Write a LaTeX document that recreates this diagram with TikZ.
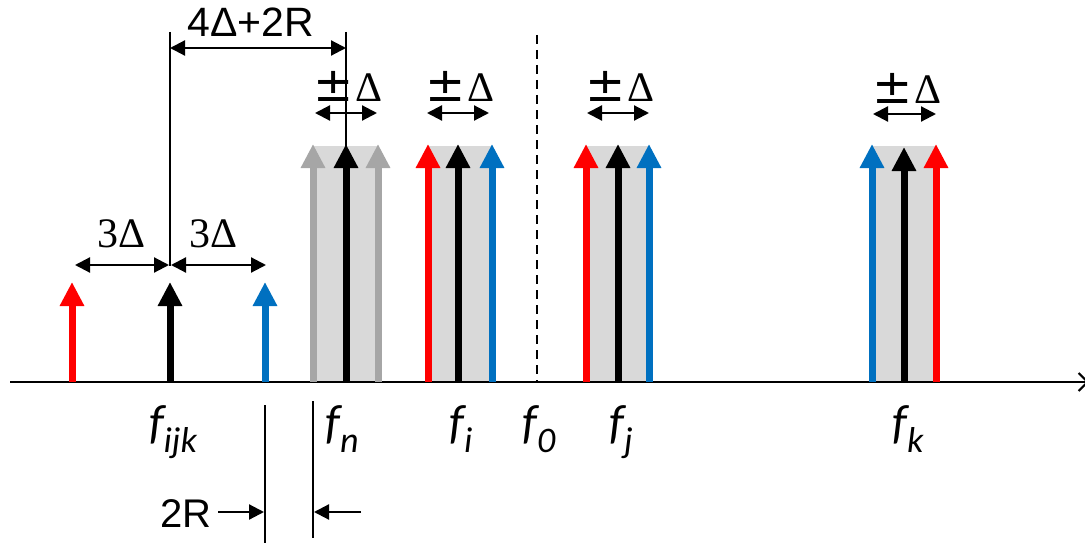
\documentclass[tikz,border=0pt]{standalone}
\usepackage{fontspec}
\setmainfont{Liberation Serif}
\newfontfamily\arialfont{Liberation Sans}
\newfontfamily\califont{Carlito}
\newfontfamily\djfont{DejaVu Sans}
\usetikzlibrary{arrows.meta}
\definecolor{myred}{HTML}{FF0000}
\definecolor{myblue}{HTML}{0070C0}
\definecolor{mygray}{HTML}{A6A6A6}
\definecolor{boxgray}{HTML}{D9D9D9}
\newcommand\spk[4]{%
  \coordinate (#1b) at (#2,382);
  \coordinate (#1t) at (#2,#3);
  \draw[spike,#4] (#1b) -- (#1t);}
\newcommand\flab[1]{{\califont\itshape\fontsize{48}{48}\selectfont f}{\califont\itshape\fontsize{36}{36}\selectfont\raisebox{-14pt}{#1}}}
\newcommand\pmd{{\djfont\fontsize{48}{48}\selectfont ±}\kern1pt Δ}
\tikzset{
  spike/.style={line width=7pt,-{Triangle[length=24pt,width=23pt]}},
  dimline/.style={line width=2pt},
  dimarrow/.style={line width=2.2pt,{Triangle[length=15pt,width=15pt]}-{Triangle[length=15pt,width=15pt]}},
  onearrow/.style={line width=2.2pt,-{Triangle[length=15pt,width=15pt]}},
  pmlab/.style={anchor=base,font=\fontsize{42}{42}\selectfont,inner sep=0pt},
  sanslab/.style={anchor=base,font=\arialfont\fontsize{41}{41}\selectfont,inner sep=0pt},
  flabel/.style={anchor=base,inner sep=0pt},
}
\begin{document}
\begin{tikzpicture}[x=1pt,y=-1pt]
\useasboundingbox (0,0) rectangle (1085,543);
% gray bands
\fill[boxgray] (313,146) rectangle (378,382);
\fill[boxgray] (428,146) rectangle (492,382);
\fill[boxgray] (586,146) rectangle (649,382);
\fill[boxgray] (872,146) rectangle (936,382);
% axis
\coordinate (ax0) at (10,382);
\coordinate (ax1) at (1089,382);
\draw[line width=2.5pt,-{Straight Barb[length=9pt,width=18pt,line width=2pt]}] (ax0) -- (ax1);
% dashed f0 line
\coordinate (d0) at (537,35);
\coordinate (d1) at (537,382);
\draw[line width=2.5pt,dash pattern=on 9pt off 6pt] (d0) -- (d1);
% short spikes
\spk{sr}{72}{282}{myred}
\spk{sk}{170}{282}{black}
\spk{sb}{265}{282}{myblue}
% group n
\spk{ng1}{313}{144}{mygray}
\spk{ng2}{378}{144}{mygray}
\spk{nk}{346}{144}{black}
% group i
\spk{ir}{428}{144}{myred}
\spk{ib}{492}{144}{myblue}
\spk{ik}{458}{144}{black}
% group j
\spk{jr}{586}{144}{myred}
\spk{jb}{649}{144}{myblue}
\spk{jk}{618}{144}{black}
% group k
\spk{kb}{872}{144}{myblue}
\spk{kr}{936}{144}{myred}
\spk{kk}{904}{147}{black}
% dimension lines top
\coordinate (v1a) at (170,32); \coordinate (v1b) at (170,266);
\coordinate (v2a) at (346,32); \coordinate (v2b) at (346,146);
\draw[dimline] (v1a) -- (v1b);
\draw[dimline] (v2a) -- (v2b);
\coordinate (h1a) at (170,48); \coordinate (h1b) at (346,48);
\draw[dimarrow] (h1a) -- (h1b);
\node[sanslab] (t4d) at (251,37) {4Δ+2R};
% 3 Delta
\coordinate (a3l) at (75,265); \coordinate (a3m) at (169,265); \coordinate (a3n) at (171,265); \coordinate (a3r) at (266,265);
\draw[dimarrow] (a3l) -- (a3m);
\draw[dimarrow] (a3n) -- (a3r);
\node[pmlab] (t3l) at (122,247) {3Δ};
\node[pmlab] (t3r) at (214,247) {3Δ};
% plus minus Delta
\coordinate (pna) at (315,113); \coordinate (pnb) at (377,113);
\coordinate (pia) at (427,113); \coordinate (pib) at (489,113);
\coordinate (pja) at (587,113); \coordinate (pjb) at (649,113);
\coordinate (pka) at (873,114); \coordinate (pkb) at (936,114);
\draw[dimarrow] (pna) -- (pnb);
\draw[dimarrow] (pia) -- (pib);
\draw[dimarrow] (pja) -- (pjb);
\draw[dimarrow] (pka) -- (pkb);
\node[pmlab] (pmn) at (348,102) {\pmd};
\node[pmlab] (pmi) at (460,101) {\pmd};
\node[pmlab] (pmj) at (620,101) {\pmd};
\node[pmlab] (pmk) at (907,103) {\pmd};
% bottom 2R
\coordinate (b1a) at (265,405); \coordinate (b1b) at (265,545);
\coordinate (b2a) at (313,401); \coordinate (b2b) at (313,538);
\draw[dimline] (b1a) -- (b1b);
\draw[dimline] (b2a) -- (b2b);
\coordinate (r1a) at (218,512); \coordinate (r1b) at (264,512);
\coordinate (r2a) at (361,512); \coordinate (r2b) at (314,512);
\draw[onearrow] (r1a) -- (r1b);
\draw[onearrow] (r2a) -- (r2b);
\node[sanslab,font=\arialfont\fontsize{40}{40}\selectfont] (t2r) at (186,527) {2R};
% frequency labels
\node[flabel] (lijk) at (173,438) {\flab{ijk}};
\node[flabel] (ln) at (342,438) {\flab{n}};
\node[flabel] (li) at (461,438) {\flab{i}};
\node[flabel] (l0) at (539,438) {\flab{0}};
\node[flabel] (lj) at (621,438) {\flab{j}};
\node[flabel] (lk) at (908,438) {\flab{k}};
\end{tikzpicture}
\end{document}
